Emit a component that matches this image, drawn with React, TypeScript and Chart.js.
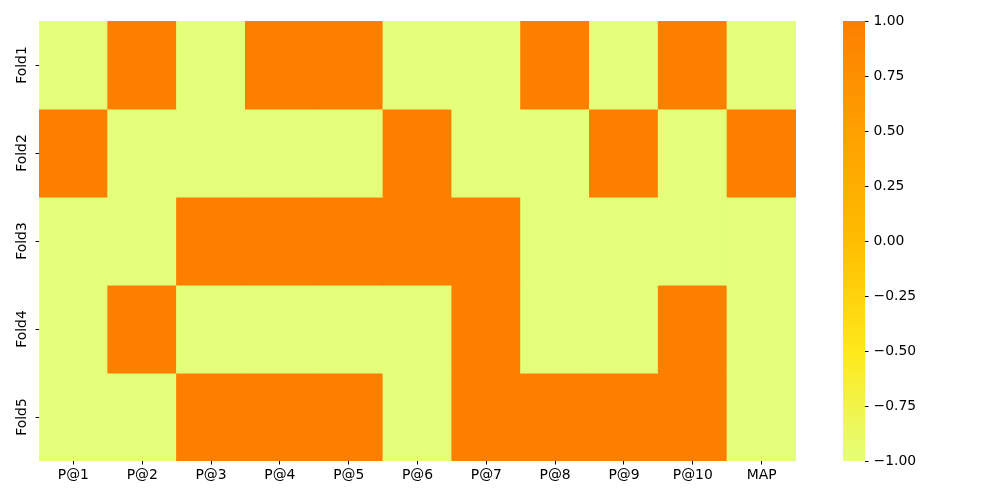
import React, { useEffect, useRef } from "react";
import { Chart, registerables } from "chart.js";

Chart.register(...registerables);

const columns = ["P@1", "P@2", "P@3", "P@4", "P@5", "P@6", "P@7", "P@8", "P@9", "P@10", "MAP"];
const rows = ["Fold1", "Fold2", "Fold3", "Fold4", "Fold5"];
const fold1 = [-1, 1, -1, 1, 1, -1, -1, 1, -1, 1, -1];
const fold2 = [1, -1, -1, -1, -1, 1, -1, -1, 1, -1, 1];
const fold3 = [-1, -1, 1, 1, 1, 1, 1, -1, -1, -1, -1];
const fold4 = [-1, 1, -1, -1, -1, -1, 1, -1, -1, 1, -1];
const fold5 = [-1, -1, 1, 1, 1, -1, 1, 1, 1, 1, -1];
const values = [fold1, fold2, fold3, fold4, fold5];
const colorbarTicks = [-1, -0.75, -0.5, -0.25, 0, 0.25, 0.5, 0.75, 1];
const vmin = -1;
const vmax = 1;

// Wistia colormap stops
const wistia: [number, number, number][] = [
  [228, 255, 122],
  [255, 232, 26],
  [255, 189, 0],
  [255, 160, 0],
  [252, 127, 0],
];

function cmap(v: number): string {
  let t = (v - vmin) / (vmax - vmin);
  t = Math.max(0, Math.min(1, t));
  const s = t * (wistia.length - 1);
  const i = Math.min(Math.floor(s), wistia.length - 2);
  const f = s - i;
  const a = wistia[i];
  const b = wistia[i + 1];
  const c = a.map((x, k) => Math.round(x + (b[k] - x) * f));
  return `rgb(${c[0]},${c[1]},${c[2]})`;
}

const FONT = "'DejaVu Sans', sans-serif";
const FSIZE = 13.9;

export default function App() {
  const mainRef = useRef<HTMLCanvasElement>(null);
  const barRef = useRef<HTMLCanvasElement>(null);

  useEffect(() => {
    const yLabelPlugin = {
      id: "yLabels",
      afterDraw(chart: any) {
        const ys = chart.scales.y;
        const ctx = chart.ctx;
        ctx.save();
        ctx.font = `${FSIZE}px ${FONT}`;
        ctx.fillStyle = "#000";
        ctx.textAlign = "center";
        ctx.textBaseline = "middle";
        rows.forEach((r, i) => {
          const py = ys.getPixelForValue(i + 0.5);
          ctx.save();
          ctx.translate(22, py);
          ctx.rotate(-Math.PI / 2);
          ctx.fillText(r, 0, 0);
          ctx.restore();
        });
        ctx.restore();
      },
    };

    const main = new Chart(mainRef.current!, {
      type: "bar",
      data: {
        labels: columns,
        datasets: values.map((vals, r) => ({
          label: rows[r],
          data: vals.map(() => [r, r + 1]),
          backgroundColor: vals.map((v) => cmap(v)),
          borderWidth: 0,
          grouped: false,
          categoryPercentage: 1,
          barPercentage: 1,
          inflateAmount: 0.5,
        })),
      } as any,
      options: {
        animation: false,
        responsive: false,
        maintainAspectRatio: false,
        layout: { padding: { left: 0, top: 21, right: 24, bottom: 0 } },
        plugins: { legend: { display: false }, tooltip: { enabled: false } },
        scales: {
          x: {
            type: "category",
            offset: true,
            border: { display: false },
            grid: {
              offset: false,
              drawOnChartArea: false,
              drawTicks: true,
              tickLength: 3.5,
              tickColor: "#000",
              tickWidth: 1,
            },
            ticks: {
              color: "#000",
              font: { family: FONT, size: FSIZE },
              padding: 3,
              maxRotation: 0,
              minRotation: 0,
              autoSkip: false,
            },
            afterFit(scale: any) {
              scale.height = 39;
            },
          },
          y: {
            type: "linear",
            min: 0,
            max: 5,
            reverse: true,
            border: { display: false },
            grid: {
              drawOnChartArea: false,
              drawTicks: true,
              tickLength: 3.5,
              tickColor: "#000",
              tickWidth: 1,
            },
            ticks: { display: false },
            afterBuildTicks(scale: any) {
              scale.ticks = rows.map((_, i) => ({ value: i + 0.5 }));
            },
            afterFit(scale: any) {
              scale.width = 39;
            },
          },
        },
      },
      plugins: [yLabelPlugin],
    } as any);

    const bar = new Chart(barRef.current!, {
      type: "bar",
      data: {
        labels: ["cb"],
        datasets: [
          {
            data: [[vmin, vmax]],
            backgroundColor: (ctx: any) => {
              const ca = ctx.chart.chartArea;
              if (!ca) return cmap(0);
              const g = ctx.chart.ctx.createLinearGradient(0, ca.bottom, 0, ca.top);
              for (let k = 0; k <= 40; k++) {
                const t = k / 40;
                g.addColorStop(t, cmap(vmin + t * (vmax - vmin)));
              }
              return g;
            },
            borderWidth: 0,
            categoryPercentage: 1,
            barPercentage: 1,
          },
        ],
      } as any,
      options: {
        animation: false,
        responsive: false,
        maintainAspectRatio: false,
        layout: { padding: { left: 43, top: 21, right: 0, bottom: 39 } },
        plugins: { legend: { display: false }, tooltip: { enabled: false } },
        scales: {
          x: { display: false },
          y: {
            position: "right",
            min: vmin,
            max: vmax,
            border: { display: false },
            grid: {
              drawOnChartArea: false,
              drawTicks: true,
              tickLength: 3.5,
              tickColor: "#000",
              tickWidth: 1,
            },
            ticks: {
              color: "#000",
              font: { family: FONT, size: FSIZE },
              padding: 5,
              callback: (v: any) => Number(v).toFixed(2).replace("-", "\u2212"),
            },
            afterBuildTicks(scale: any) {
              scale.ticks = colorbarTicks.map((v) => ({ value: v }));
            },
            afterFit(scale: any) {
              scale.width = 135;
            },
          },
        },
      },
    } as any);

    return () => {
      main.destroy();
      bar.destroy();
    };
  }, []);

  return (
    <div style={{ position: "absolute", left: 0, top: 0, width: 1000, height: 500, background: "#fff" }}>
      <canvas
        ref={mainRef}
        width={820}
        height={500}
        style={{ position: "absolute", left: 0, top: 0, width: 820, height: 500 }}
      />
      <canvas
        ref={barRef}
        width={200}
        height={500}
        style={{ position: "absolute", left: 800, top: 0, width: 200, height: 500 }}
      />
    </div>
  );
}
